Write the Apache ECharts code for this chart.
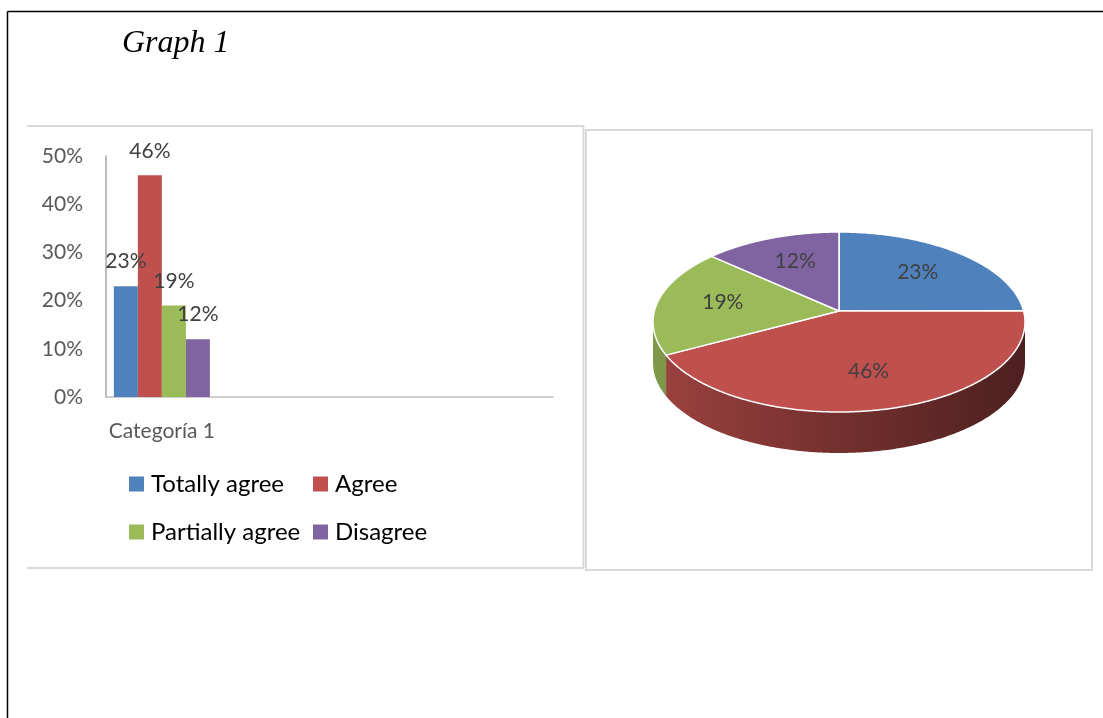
<!DOCTYPE html>
<html>
<head>
<meta charset="utf-8">
<script src="https://cdn.jsdelivr.net/npm/echarts@6/dist/echarts.min.js"></script>
<style>
  html, body { margin: 0; padding: 0; background: #ffffff; }
  #chart { width: 1103px; height: 718px; }
</style>
</head>
<body>
<div id="chart"></div>
<script>
// Survey answers, one value per answer option
const categories = ['Categoría 1', '', '', ''];
const seriesNames = ['Totally agree', 'Agree', 'Partially agree', 'Disagree'];
const shares = [0.23, 0.46, 0.19, 0.12];
const seriesColors = ['#4f81bd', '#c0504d', '#9bbb59', '#8064a2'];
const yTicks = [0, 0.1, 0.2, 0.3, 0.4, 0.5];

const FONT = 'Lato, "Open Sans", sans-serif';
const pct = v => Math.round(v * 100) + '%';

// 3D-looking pie geometry: rim ellipse, raised apex (perspective), wall depth
const PIE = { cx: 839, cy: 322, rx: 186, ry: 90, apexDy: -11, depth: 41 };
const total = shares.reduce((a, b) => a + b, 0);
const cumStart = shares.map((_, i) => shares.slice(0, i).reduce((a, b) => a + b, 0));

function shade(hex, f) {
  const n = parseInt(hex.slice(1), 16);
  const r = Math.round(((n >> 16) & 255) * f);
  const g = Math.round(((n >> 8) & 255) * f);
  const b = Math.round((n & 255) * f);
  return 'rgb(' + r + ',' + g + ',' + b + ')';
}
function ept(t, dy) {
  return [PIE.cx + PIE.rx * Math.sin(t), PIE.cy - PIE.ry * Math.cos(t) + (dy || 0)];
}
function arcPts(a, b, dy) {
  const pts = [];
  const steps = Math.max(2, Math.ceil(Math.abs(b - a) / 0.01));
  for (let k = 0; k <= steps; k++) pts.push(ept(a + (b - a) * k / steps, dy));
  return pts;
}

function renderSlice(params, api) {
  const i = params.dataIndex;
  const v = api.value(0);
  const a = cumStart[i] / total * Math.PI * 2;
  const b = a + v / total * Math.PI * 2;
  const color = seriesColors[i];
  const apex = [PIE.cx, PIE.cy + PIE.apexDy];
  const children = [];

  // visible side wall: the front half of the rim
  const s = Math.max(a, Math.PI / 2), e = Math.min(b, Math.PI * 1.5);
  if (e > s) {
    const top = arcPts(s, e, 0);
    const bottom = arcPts(e, s, PIE.depth);
    children.push({
      type: 'polygon',
      z2: 1,
      shape: { points: top.concat(bottom) },
      style: {
        fill: {
          type: 'linear', global: true,
          x: PIE.cx - PIE.rx, y: 0, x2: PIE.cx + PIE.rx, y2: 0,
          colorStops: [
            { offset: 0, color: shade(color, 0.82) },
            { offset: 0.5, color: shade(color, 0.6) },
            { offset: 1, color: shade(color, 0.4) }
          ]
        }
      }
    });
  }

  // top face
  children.push({
    type: 'polygon',
    z2: 2,
    shape: { points: [apex].concat(arcPts(a, b, 0)) },
    style: { fill: color, stroke: '#ffffff', lineWidth: 1.5, lineJoin: 'round' }
  });

  // value label
  const m = (a + b) / 2;
  const lp = [apex[0] + PIE.rx * 0.64 * Math.sin(m), apex[1] - PIE.ry * 0.64 * Math.cos(m) + 4];
  children.push({
    type: 'text',
    z2: 3,
    x: lp[0], y: lp[1],
    style: {
      text: pct(v), fill: '#404040', font: '21px ' + FONT,
      align: 'center', verticalAlign: 'middle'
    }
  });
  return { type: 'group', children: children };
}

const chart = echarts.init(document.getElementById('chart'), null, { renderer: 'canvas' });

const barSeries = seriesNames.map((name, i) => ({
  name: name,
  type: 'bar',
  barWidth: 24,
  barGap: '0%',
  itemStyle: { color: seriesColors[i] },
  label: {
    show: true, position: 'top', distance: 14,
    color: '#404040', fontFamily: FONT, fontSize: 21,
    formatter: p => pct(p.value)
  },
  data: categories.map((c, k) => (k === 0 ? shares[i] : null))
}));

const grayLine = (x1, y1, x2, y2) => ({
  type: 'line', silent: true,
  shape: { x1: x1, y1: y1, x2: x2, y2: y2 },
  style: { stroke: '#d9d9d9', lineWidth: 2 }
});
const blackLine = (x1, y1, x2, y2) => ({
  type: 'line', silent: true,
  shape: { x1: x1, y1: y1, x2: x2, y2: y2 },
  style: { stroke: '#000000', lineWidth: 1.5 }
});

const legendBase = {
  top: 471, orient: 'vertical', itemGap: 22, padding: 0,
  itemWidth: 15, itemHeight: 15, icon: 'rect',
  textStyle: { fontFamily: FONT, fontSize: 24, color: '#000000', lineHeight: 26, padding: [0, 0, 0, 2] }
};

chart.setOption({
  backgroundColor: '#ffffff',
  animation: false,
  graphic: [
    blackLine(7.5, 11.5, 1103, 11.5),
    blackLine(7.5, 11.5, 7.5, 718),
    {
      type: 'text', left: 122, top: 28,
      style: { text: 'Graph 1', font: 'italic 32px "Liberation Serif", "DejaVu Serif", serif', fill: '#000000' }
    },
    grayLine(27, 126, 584, 126),
    grayLine(583.5, 126, 583.5, 568),
    grayLine(27, 568, 584, 568),
    {
      type: 'rect', silent: true,
      shape: { x: 586, y: 130, width: 506, height: 440 },
      style: { fill: 'none', stroke: '#d9d9d9', lineWidth: 2 }
    }
  ],
  legend: [
    Object.assign({ left: 129, data: [seriesNames[0], seriesNames[2]] }, legendBase),
    Object.assign({ left: 313, data: [seriesNames[1], seriesNames[3]] }, legendBase)
  ],
  grid: { left: 106, top: 156, width: 447, height: 241, containLabel: false },
  xAxis: {
    type: 'category',
    data: categories,
    axisLine: { lineStyle: { color: '#bfbfbf', width: 1.5 } },
    axisTick: { show: false },
    axisLabel: { color: '#595959', fontFamily: FONT, fontSize: 21, margin: 24, interval: 0 },
    splitLine: { show: false }
  },
  yAxis: {
    type: 'value',
    min: yTicks[0], max: yTicks[yTicks.length - 1], interval: yTicks[1] - yTicks[0],
    axisLine: { show: true, lineStyle: { color: '#a6a6a6', width: 1.5 } },
    axisTick: { show: false },
    splitLine: { show: false },
    axisLabel: { color: '#595959', fontFamily: FONT, fontSize: 21, margin: 23, formatter: v => pct(v) }
  },
  series: barSeries.concat([{
    type: 'custom',
    name: 'pie',
    coordinateSystem: 'none',
    renderItem: renderSlice,
    data: shares.map((v, i) => ({ name: seriesNames[i], value: [v] }))
  }])
});
</script>
</body>
</html>
